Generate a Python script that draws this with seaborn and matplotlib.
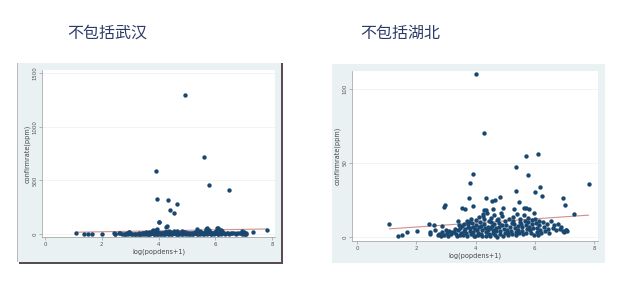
import numpy as np
import pandas as pd
import matplotlib
matplotlib.use("Agg")
import matplotlib.pyplot as plt
from matplotlib.patches import Rectangle
import seaborn as sns

# ---------------- data ----------------
titles = ["不包括武汉", "不包括湖北"]
x_label = "log(popdens+1)"
y_label = "confirmrate(ppm)"
x_ticks = [0, 2, 4, 6, 8]
y_ticks_left = [0, 500, 1000, 1500]
y_ticks_right = [0, 50, 100]

# cities outside Hubei (right panel; also part of left panel)
x_nonhubei = [
    1.09, 1.39, 1.53, 1.67, 2.01, 2.42, 2.45, 2.48, 2.60, 2.63, 2.72, 2.82, 2.88, 2.95, 2.97,
    2.78, 2.86, 2.92, 3.00, 3.04, 3.08, 3.12, 3.18, 3.22,
    3.27, 3.30, 3.33, 3.36, 3.40, 3.42, 3.44, 3.47, 3.49,
    3.52, 3.55, 3.56, 3.58, 3.60, 3.62, 3.64, 3.66, 3.68, 3.70, 3.72, 3.74,
    3.77, 3.80, 3.76, 3.78, 3.80, 3.83, 3.85, 3.86, 3.88, 3.90, 3.92, 3.93, 3.93, 3.95, 3.97, 3.99,
    4.03, 4.01, 4.03, 4.05, 4.07, 4.09, 4.11, 4.13, 4.15, 4.17, 4.19, 4.21, 4.23, 4.24,
    4.30, 4.28, 4.37, 4.37, 4.26, 4.28, 4.30, 4.32, 4.34, 4.36, 4.39, 4.41, 4.43, 4.45, 4.47, 4.48, 4.49,
    4.54, 4.60, 4.65, 4.51, 4.53, 4.56, 4.58, 4.60, 4.62, 4.64, 4.66, 4.68, 4.70, 4.72, 4.74,
    4.82, 4.92, 4.76, 4.78, 4.80, 4.82, 4.84, 4.86, 4.88, 4.90, 4.93, 4.96, 4.99,
    5.01, 5.03, 5.06, 5.08, 5.11, 5.14, 5.17, 5.19, 5.22, 5.24,
    5.30, 5.36, 5.37, 5.46, 5.26, 5.28, 5.31, 5.33, 5.35, 5.38, 5.40, 5.42, 5.44, 5.47, 5.49,
    5.63, 5.69, 5.72, 5.51, 5.53, 5.56, 5.58, 5.61, 5.64, 5.66, 5.69, 5.71, 5.74,
    5.78, 5.81, 5.76, 5.78, 5.81, 5.84, 5.86, 5.89, 5.91, 5.94, 5.96, 5.98,
    6.02, 6.11, 6.17, 6.24, 6.01, 6.03, 6.06, 6.08, 6.10, 6.13, 6.16, 6.19, 6.22,
    6.28, 6.32, 6.36, 6.40, 6.44, 6.48,
    6.54, 6.60, 6.66, 6.72,
    6.78, 6.84, 6.90, 6.94, 6.95, 7.00, 7.02, 7.04, 7.07, 7.10,
    7.34, 7.82,
]
y_nonhubei = [
    8.8, 0.9, 1.6, 3.4, 4.0, 9.0, 3.1, 2.0, 7.9, 4.9, 1.6, 0.4, 7.2, 20.2, 21.6,
    2.2, 3.6, 1.1, 5.0, 2.6, 0.6, 4.1, 1.8, 3.2,
    3.5, 5.6, 2.0, 0.9, 4.5, 10.8, 8.2, 1.4, 6.0,
    3.0, 19.8, 7.5, 1.6, 9.1, 4.2, 5.2, 19.1, 2.5, 0.6, 11.0, 6.6,
    26.5, 36.4, 8.6, 10.1, 6.0, 4.0, 2.0, 12.1, 9.6, 3.3, 7.0, 21.1, 42.5, 1.0, 5.5, 0.4,
    109.9, 11.6, 8.0, 5.0, 3.0, 1.5, 13.6, 6.5, 10.0, 2.2, 7.5, 0.8, 4.4, 15.5,
    70.3, 18.2, 26.3, 18.4, 14.0, 12.5, 9.0, 6.0, 3.5, 1.0, 16.0, 7.0, 4.8, 2.0, 10.5, 0.5, 5.8,
    24.3, 18.9, 24.9, 13.0, 10.0, 7.5, 5.0, 2.5, 15.0, 8.5, 1.2, 3.8, 6.2, 11.8, 0.3,
    27.2, 19.8, 12.0, 9.5, 6.8, 4.0, 2.0, 16.5, 14.5, 8.0, 1.0, 5.5, 3.0,
    10.5, 8.0, 5.0, 3.0, 1.5, 12.5, 6.5, 4.2, 2.3, 9.2,
    18.9, 47.2, 31.0, 23.6, 13.5, 11.0, 8.5, 6.0, 3.5, 1.2, 15.5, 7.2, 4.8, 2.5, 10.0,
    19.6, 19.8, 54.6, 12.5, 9.0, 6.5, 4.0, 2.0, 14.8, 10.8, 7.8, 3.0, 5.2,
    41.8, 18.7, 13.0, 10.0, 7.0, 4.5, 2.5, 11.8, 8.5, 5.8, 1.5, 16.5,
    30.1, 56.4, 33.9, 27.4, 12.0, 9.5, 6.0, 3.5, 1.5, 11.0, 8.0, 4.8, 2.5,
    10.0, 7.0, 4.0, 9.0, 5.5, 3.0,
    11.0, 6.0, 8.0, 4.5,
    9.0, 5.5, 7.0, 26.3, 4.0, 3.5, 21.6, 4.5, 5.0, 3.8,
    15.7, 36.0,
]

# Hubei cities other than Wuhan (left panel only)
x_hubei = [4.94, 5.61, 3.91, 5.79, 6.47, 3.93, 4.33, 4.64, 4.42, 4.55, 4.01, 4.27, 6.06, 5.67, 3.92, 6.20]
y_hubei = [1292, 713, 589, 456, 409, 325, 316, 279, 223, 192, 108, 68, 53, 46, 40, 35]

# ---------------- style ----------------
sns.set_theme(style="white")
plt.rcParams["font.family"] = ["DejaVu Sans"]

W, H = 633, 289
fig = plt.figure(figsize=(W / 100, H / 100), dpi=100)
fig.patch.set_facecolor("white")

def fx(px):
    return px / W

def fy(py):
    return 1 - py / H

bg = "#eaf1f3"
navy = "#1a476f"
line_col = "#cf8f8f"
title_col = "#2b3a67"

# panel backgrounds (graph regions)
fig.patches.append(Rectangle((fx(19), fy(264)), fx(264), (264 - 63) / H,
                             transform=fig.transFigure, facecolor="#5a4a52",
                             edgecolor="none", zorder=-3))
fig.patches.append(Rectangle((fx(17), fy(262)), fx(264), (262 - 63) / H,
                             transform=fig.transFigure, facecolor=bg,
                             edgecolor="none", zorder=-2))
fig.patches.append(Rectangle((fx(17), fy(262)), fx(1), (262 - 63) / H,
                             transform=fig.transFigure, facecolor="#b9b9b9",
                             edgecolor="none", zorder=-1))
fig.patches.append(Rectangle((fx(332), fy(263)), fx(273), (263 - 64) / H,
                             transform=fig.transFigure, facecolor=bg,
                             edgecolor="none", zorder=-2))

df_right = pd.DataFrame({"x": x_nonhubei, "y": y_nonhubei})
df_left = pd.DataFrame({"x": x_nonhubei + x_hubei, "y": y_nonhubei + y_hubei})

panels = [
    dict(df=df_left, rect=(42, 70, 275, 237), xlim=(-0.106, 8.106), ylim=(-28, 1528),
         yticks=y_ticks_left, title=titles[0], title_x=107),
    dict(df=df_right, rect=(352, 71, 598, 241), xlim=(-0.17, 8.135), ylim=(-2.7, 112.2),
         yticks=y_ticks_right, title=titles[1], title_x=400),
]

for p in panels:
    l, t, r, b = p["rect"]
    ax = fig.add_axes([fx(l), fy(b), (r - l) / W, (b - t) / H])
    ax.set_zorder(5)
    ax.set_facecolor("white")
    sns.regplot(data=p["df"], x="x", y="y", ax=ax, ci=None,
                scatter_kws=dict(s=10, color=navy, linewidths=0, alpha=1, zorder=3),
                line_kws=dict(color=line_col, lw=0.8, zorder=2))
    ax.set_xlim(*p["xlim"])
    ax.set_ylim(*p["ylim"])
    ax.set_xticks(x_ticks)
    ax.set_yticks(p["yticks"])
    ax.set_xticklabels([str(v) for v in x_ticks], fontsize=3.9, color="#555555")
    ax.set_yticklabels([str(v) for v in p["yticks"]], fontsize=3.9, color="#555555",
                       rotation=90, va="center")
    ax.tick_params(axis="both", length=2, width=0.4, color="#888888", pad=1.5,
                   bottom=True, left=True)
    ax.grid(axis="y", color="#eeeeee", lw=0.5)
    ax.grid(axis="x", visible=False)
    for s in ["top", "right"]:
        ax.spines[s].set_visible(False)
    for s in ["left", "bottom"]:
        ax.spines[s].set_color("#9a9a9a")
        ax.spines[s].set_linewidth(0.5)
    ax.set_xlabel(x_label, fontsize=4.7, color="#444444", labelpad=1)
    ax.set_ylabel(y_label, fontsize=4.7, color="#444444", labelpad=1)
    fig.text(fx(p["title_x"]), fy(33), p["title"], fontsize=11.5, color=title_col,
             ha="center", va="center", family=["Noto Sans CJK SC", "DejaVu Sans"])

fig.savefig("out.png", dpi=100, facecolor="white")
